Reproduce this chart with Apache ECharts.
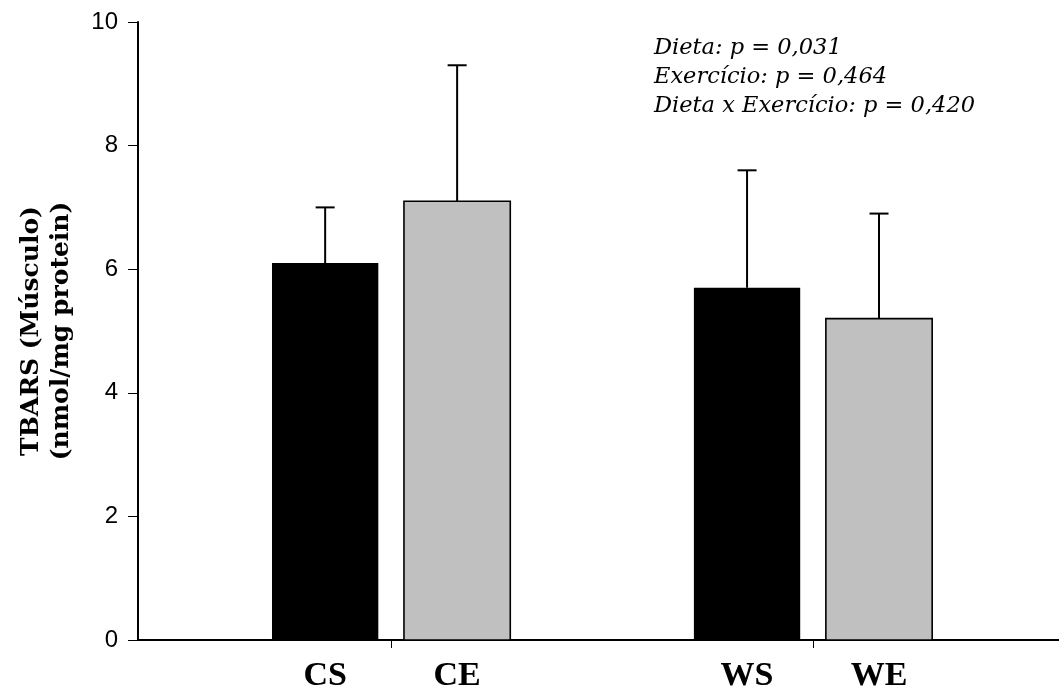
<!DOCTYPE html>
<html>
<head>
<meta charset="utf-8">
<script src="https://cdn.jsdelivr.net/npm/echarts@6/dist/echarts.min.js"></script>
<style>
  html, body { margin: 0; padding: 0; background: #fff; }
  #chart { width: 1059px; height: 693px; }
</style>
</head>
<body>
<div id="chart"></div>
<script>
(function () {

    /* ============ 数据 ============ */
    var categories = ['CS', 'CE', 'WS', 'WE'];
    var groups = [1, 1, 2, 2];          // C = 1, W = 2
    var subs = [0, 1, 0, 1];            // S = 0, E = 1
    var means = [6.1, 7.1, 5.7, 5.2];
    var upper = [7.0, 9.3, 7.6, 6.9];   // mean + SD
    var yTicks = [0, 2, 4, 6, 8, 10];
    var stats = [
        'Dieta: p = 0,031',
        'Exercício: p = 0,464',
        'Dieta x Exercício: p = 0,420'
    ];

    var barOffset = 0.1564;
    var barWidth = 0.252;
    var fills = ['#000000', '#c0c0c0'];

    var xPos = [];
    for (var i = 0; i < categories.length; i++) {
        xPos.push(groups[i] + (subs[i] === 0 ? -barOffset : barOffset));
    }

    var seriesData = [];
    for (var j = 0; j < categories.length; j++) {
        seriesData.push([xPos[j], means[j], upper[j], subs[j]]);
    }

    var myChart = echarts.init(document.getElementById('chart'));

    var option = {
        animation: false,
        title: {
            text: stats.join('\n'),
            left: 649,
            top: 29,
            textStyle: {
                fontFamily: 'DejaVu Serif',
                fontStyle: 'italic',
                fontWeight: 'normal',
                fontSize: 22.5,
                lineHeight: 29,
                color: '#000'
            }
        },
        grid: {
            left: 138,
            right: 0,
            top: 22,
            bottom: 53,
            containLabel: false,
            outerBoundsMode: 'none'
        },
        xAxis: {
            type: 'value',
            min: 0.4,
            max: 2.583,
            splitLine: { show: false },
            axisLine: { show: true, lineStyle: { color: '#000', width: 2 } },
            axisTick: {
                show: true,
                customValues: [1, 2],
                length: 8,
                lineStyle: { color: '#000', width: 1 }
            },
            axisLabel: {
                customValues: xPos,
                margin: 19,
                fontFamily: 'Liberation Serif',
                fontWeight: 'bold',
                fontSize: 34,
                color: '#000',
                formatter: function (v) {
                    for (var k = 0; k < xPos.length; k++) {
                        if (Math.abs(xPos[k] - v) < 1e-6) return categories[k];
                    }
                    return '';
                }
            }
        },
        yAxis: {
            type: 'value',
            min: 0,
            max: 10,
            interval: 2,
            name: 'TBARS (Músculo)\n(nmol/mg protein)',
            nameLocation: 'middle',
            nameGap: 62,
            nameTextStyle: {
                fontFamily: 'DejaVu Serif',
                fontWeight: 'bold',
                fontSize: 25,
                lineHeight: 30,
                color: '#000'
            },
            splitLine: { show: false },
            axisLine: { show: true, lineStyle: { color: '#000', width: 2 } },
            axisTick: { show: true, length: 10, lineStyle: { color: '#000', width: 1 } },
            axisLabel: {
                margin: 20,
                fontFamily: 'Liberation Sans',
                fontSize: 24,
                color: '#000',
                formatter: function (v) {
                    return yTicks.indexOf(v) >= 0 ? String(v) : '';
                }
            }
        },
        series: [
            {
                type: 'custom',
                data: seriesData,
                encode: { x: 0, y: [1, 2] },
                renderItem: function (params, api) {
                    var x = api.value(0);
                    var m = api.value(1);
                    var u = api.value(2);
                    var s = api.value(3);
                    var topLeft = api.coord([x - barWidth / 2, m]);
                    var botRight = api.coord([x + barWidth / 2, 0]);
                    var mid = api.coord([x, m]);
                    var top = api.coord([x, u]);
                    var cap = 9.5;
                    return {
                        type: 'group',
                        children: [
                            {
                                type: 'rect',
                                shape: {
                                    x: topLeft[0],
                                    y: topLeft[1],
                                    width: botRight[0] - topLeft[0],
                                    height: botRight[1] - topLeft[1]
                                },
                                style: {
                                    fill: fills[s],
                                    stroke: '#000',
                                    lineWidth: s === 0 ? 0 : 1.6
                                }
                            },
                            {
                                type: 'line',
                                shape: { x1: mid[0], y1: mid[1], x2: top[0], y2: top[1] },
                                style: { stroke: '#000', lineWidth: 2 }
                            },
                            {
                                type: 'line',
                                shape: { x1: top[0] - cap, y1: top[1], x2: top[0] + cap, y2: top[1] },
                                style: { stroke: '#000', lineWidth: 2 }
                            }
                        ]
                    };
                }
            }
        ]
    };

    myChart.setOption(option);
}());
</script>
</body>
</html>
